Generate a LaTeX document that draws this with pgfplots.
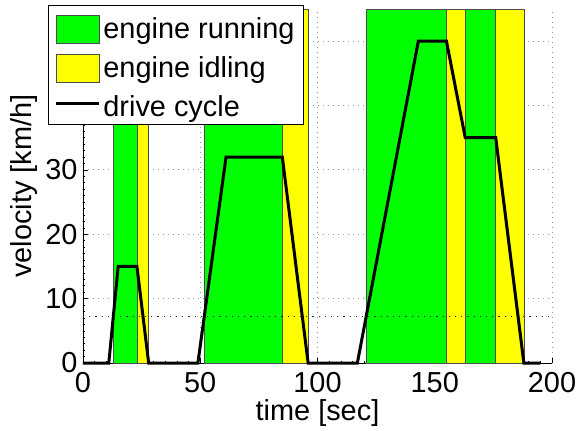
\documentclass[border=0pt]{standalone}
\usepackage{fontspec}
\setmainfont{Liberation Sans}
\usepackage{pgfplots}
\pgfplotsset{compat=1.18}
\newcommand{\bigf}{\fontsize{29}{34}\selectfont}
\definecolor{mgreen}{rgb}{0,1,0}
\definecolor{myellow}{rgb}{1,1,0}
\pgfplotsset{
  patchlegend/.style={legend image code/.code={\draw[##1] (0bp,-17bp) rectangle (43bp,11bp);}},
  linelegend/.style={legend image code/.code={\draw[##1] (0bp,1bp) -- (43bp,1bp);}},
}
\begin{document}
\begin{tikzpicture}
\useasboundingbox (-83bp,-68bp) rectangle (494bp,363bp);
\begin{axis}[
  at={(0,0)}, anchor=south west,
  scale only axis, width=469bp, height=354bp,
  xmin=0, xmax=200, ymin=0, ymax=55,
  axis x line*=bottom, axis y line*=left,
  axis line style={black, line width=0.7bp},
  clip=false,
  xtick={0,50,100,150,200}, ytick={0,10,20,30,40,50},
  yticklabels={0,10,20,30,{},{}},
  minor x tick num=9, minor y tick num=9,
  tick align=inside,
  major tick length=5bp, minor tick length=2.5bp,
  tick style={black, line width=0.6bp},
  grid=major,
  major grid style={gray!80, line width=0.9bp, dash pattern=on 1bp off 4bp},
  /pgf/number format/assume math mode=true,
  tick label style={font=\bigf},
  xticklabel style={yshift=-6bp},
  yticklabel style={xshift=-2bp},
  every axis x label/.style={at={(axis description cs:0.5,-0.14)}, anchor=center},
  every axis y label/.style={at={(axis description cs:-0.126,0.5)}, rotate=90, anchor=center},
  label style={font=\bigf},
  xlabel={time [sec]},
  ylabel={velocity [km/h]},
  legend style={at={(rel axis cs:-0.0746,1.011)}, anchor=north west,
    draw=black, line width=0.8bp, fill=white, font=\bigf,
    inner xsep=6bp, inner ysep=3bp, row sep=4bp, column sep=0bp,
    nodes={text height=27bp, text depth=2bp, inner sep=3bp}},
  legend cell align=left,
]
% engine running / idling patches
\addplot[fill=mgreen, draw=black!70, line width=0.7bp, patchlegend]
  coordinates {(12.92,0) (23,0) (23,55) (12.92,55)} -- cycle;
\addlegendentry{engine running}
\addplot[fill=myellow, draw=black!70, line width=0.7bp, patchlegend]
  coordinates {(23,0) (28,0) (28,55) (23,55)} -- cycle;
\addlegendentry{engine idling}
\addplot[fill=mgreen, draw=black!70, line width=0.7bp, forget plot]
  coordinates {(51.7,0) (85,0) (85,55) (51.7,55)} -- cycle;
\addplot[fill=myellow, draw=black!70, line width=0.7bp, forget plot]
  coordinates {(85,0) (96,0) (96,55) (85,55)} -- cycle;
\addplot[fill=mgreen, draw=black!70, line width=0.7bp, forget plot]
  coordinates {(120.7,0) (155,0) (155,55) (120.7,55)} -- cycle;
\addplot[fill=myellow, draw=black!70, line width=0.7bp, forget plot]
  coordinates {(155,0) (163,0) (163,55) (155,55)} -- cycle;
\addplot[fill=mgreen, draw=black!70, line width=0.7bp, forget plot]
  coordinates {(163,0) (176,0) (176,55) (163,55)} -- cycle;
\addplot[fill=myellow, draw=black!70, line width=0.7bp, forget plot]
  coordinates {(176,0) (188,0) (188,55) (176,55)} -- cycle;
% threshold line
\addplot[black!85, line width=1bp, dash pattern=on 1.2bp off 5bp, forget plot]
  coordinates {(0,7.2) (200,7.2)};
% drive cycle
\addplot[black, line width=3bp, line join=miter, linelegend]
  coordinates {(0,0) (11,0) (15,15) (23,15) (28,0) (49,0) (61,32) (85,32) (96,0)
    (117,0) (143,50) (155,50) (163,35) (176,35) (188,0) (195,0)};
\addlegendentry{drive cycle}
\end{axis}
\end{tikzpicture}
\end{document}
